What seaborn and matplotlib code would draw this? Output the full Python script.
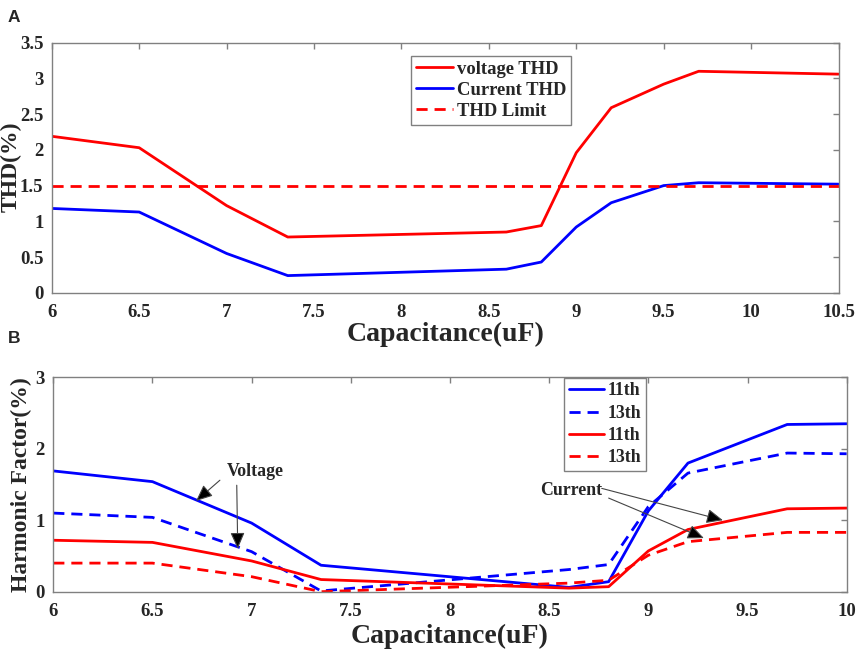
import numpy as np
import pandas as pd
import matplotlib
matplotlib.use("Agg")
import matplotlib.pyplot as plt
import seaborn as sns

# ---- panel A data: THD vs capacitance ----
cap_a = [6, 6.5, 7, 7.35, 8.6, 8.8, 9, 9.2, 9.5, 9.7, 10.5]
voltage_thd = [2.19, 2.03, 1.22, 0.78, 0.85, 0.94, 1.96, 2.59, 2.92, 3.10, 3.06]
current_thd = [1.18, 1.13, 0.55, 0.24, 0.33, 0.43, 0.92, 1.26, 1.50, 1.54, 1.52]
thd_limit = 1.5

# ---- panel B data: harmonic factor vs capacitance ----
cap_b = [6, 6.5, 7, 7.35, 8.6, 8.8, 9, 9.2, 9.7, 10]
volt_11 = [1.69, 1.54, 0.96, 0.37, 0.06, 0.14, 1.13, 1.80, 2.34, 2.35]
volt_13 = [1.10, 1.04, 0.56, 0.01, 0.31, 0.38, 1.19, 1.66, 1.94, 1.93]
curr_11 = [0.72, 0.69, 0.43, 0.17, 0.05, 0.07, 0.57, 0.87, 1.16, 1.17]
curr_13 = [0.40, 0.40, 0.21, 0.00, 0.12, 0.16, 0.51, 0.70, 0.83, 0.83]

sns.set_style("white")
plt.rcParams["font.family"] = ["Liberation Serif", "DejaVu Serif"]
plt.rcParams["font.weight"] = "bold"
plt.rcParams["axes.labelweight"] = "bold"

RED = "#ff0000"
BLUE = "#0000ff"
GRAY = "#808080"
DASH = (4, 2.5)

fig = plt.figure(figsize=(8.58, 6.52), dpi=100)
ax1 = fig.add_axes([0.0603, 0.551, 0.917, 0.3835])
ax2 = fig.add_axes([0.0621, 0.0925, 0.9247, 0.3288])


def style_axes(ax):
    for s in ax.spines.values():
        s.set_color(GRAY)
        s.set_linewidth(1.0)
    ax.tick_params(direction="in", length=4, width=1, color=GRAY,
                   top=True, right=True, labelsize=13.5)
    ax.tick_params(axis="x", pad=8)
    ax.tick_params(axis="y", pad=6)
    for lab in ax.get_xticklabels() + ax.get_yticklabels():
        lab.set_fontweight("bold")


# -------------------------------
# Panel A
# -------------------------------
df_a = pd.DataFrame({"cap": cap_a, "v": voltage_thd, "c": current_thd})
sns.lineplot(data=df_a, x="cap", y="v", ax=ax1, color=RED, lw=2, label="voltage THD")
sns.lineplot(data=df_a, x="cap", y="c", ax=ax1, color=BLUE, lw=2, label="Current THD")
ax1.axhline(thd_limit, color=RED, lw=2, dashes=DASH, label="THD Limit")

ax1.set_xlim(6, 10.5)
ax1.set_ylim(0, 3.5)
ax1.set_xticks(np.arange(6, 10.51, 0.5))
ax1.set_yticks(np.arange(0, 3.51, 0.5))
ax1.set_xticklabels(["6", "6.5", "7", "7.5", "8", "8.5", "9", "9.5", "10", "10.5"])
ax1.set_yticklabels(["0", "0.5", "1", "1.5", "2", "2.5", "3", "3.5"])
ax1.set_xlabel("Capacitance(uF)", fontsize=20, labelpad=1)
ax1.set_ylabel("THD(%)", fontsize=17)
ax1.yaxis.set_label_coords(-0.038, 0.503)
style_axes(ax1)
leg1 = ax1.legend(loc="upper left", bbox_to_anchor=(0.457, 0.947), borderaxespad=0,
                  fancybox=False, framealpha=1, edgecolor=GRAY,
                  handlelength=2.0, handletextpad=0.2, labelspacing=0.22,
                  borderpad=0.25, prop={"weight": "bold", "size": 13.4})
leg1.get_frame().set_linewidth(1.0)

# -------------------------------
# Panel B
# -------------------------------
df_b = pd.DataFrame({"cap": cap_b, "v11": volt_11, "v13": volt_13,
                     "c11": curr_11, "c13": curr_13})
sns.lineplot(data=df_b, x="cap", y="v11", ax=ax2, color=BLUE, lw=2, label="11th")
l2 = sns.lineplot(data=df_b, x="cap", y="v13", ax=ax2, color=BLUE, lw=2, label="13th")
l2.lines[-1].set_dashes(DASH)
sns.lineplot(data=df_b, x="cap", y="c11", ax=ax2, color=RED, lw=2, label="11th")
l4 = sns.lineplot(data=df_b, x="cap", y="c13", ax=ax2, color=RED, lw=2, label="13th")
l4.lines[-1].set_dashes(DASH)

ax2.set_xlim(6, 10)
ax2.set_ylim(0, 3)
ax2.set_xticks(np.arange(6, 10.01, 0.5))
ax2.set_yticks([0, 1, 2, 3])
ax2.set_xticklabels(["6", "6.5", "7", "7.5", "8", "8.5", "9", "9.5", "10"])
ax2.set_yticklabels(["0", "1", "2", "3"])
ax2.set_xlabel("Capacitance(uF)", fontsize=20, labelpad=3)
ax2.set_ylabel("Harmonic Factor(%)", fontsize=17)
ax2.yaxis.set_label_coords(-0.027, 0.498)
style_axes(ax2)
leg2 = ax2.legend(loc="upper left", bbox_to_anchor=(0.644, 0.997), borderaxespad=0,
                  fancybox=False, framealpha=1, edgecolor=GRAY,
                  handlelength=2.0, handletextpad=0.2, labelspacing=0.3,
                  borderpad=0.25, prop={"weight": "bold", "size": 12.8})
leg2.get_frame().set_linewidth(1.0)

arrow_kw = dict(arrowstyle="-|>,head_length=0.5,head_width=0.22", fc="black",
                ec="#444444", lw=0.8, mutation_scale=20, shrinkA=0, shrinkB=0)
ax2.annotate("", xy=(6.72, 1.27), xytext=(6.84, 1.56), arrowprops=arrow_kw)
ax2.annotate("", xy=(6.93, 0.60), xytext=(6.925, 1.49), arrowprops=arrow_kw)
ax2.text(7.02, 1.68, "Voltage", ha="center", va="center", fontsize=12.8, fontweight="bold")
ax2.annotate("", xy=(9.376, 1.0), xytext=(8.765, 1.446), arrowprops=arrow_kw)
ax2.annotate("", xy=(9.28, 0.75), xytext=(8.80, 1.31), arrowprops=arrow_kw)
ax2.text(8.61, 1.42, "Current", ha="center", va="center", fontsize=12.8, fontweight="bold")

# panel letters
fig.text(0.009, 0.985, "A", fontsize=12.5, fontweight="bold", family="Liberation Sans", va="top")
fig.text(0.009, 0.493, "B", fontsize=12.5, fontweight="bold", family="Liberation Sans", va="top")

fig.savefig("out.png", dpi=100)
